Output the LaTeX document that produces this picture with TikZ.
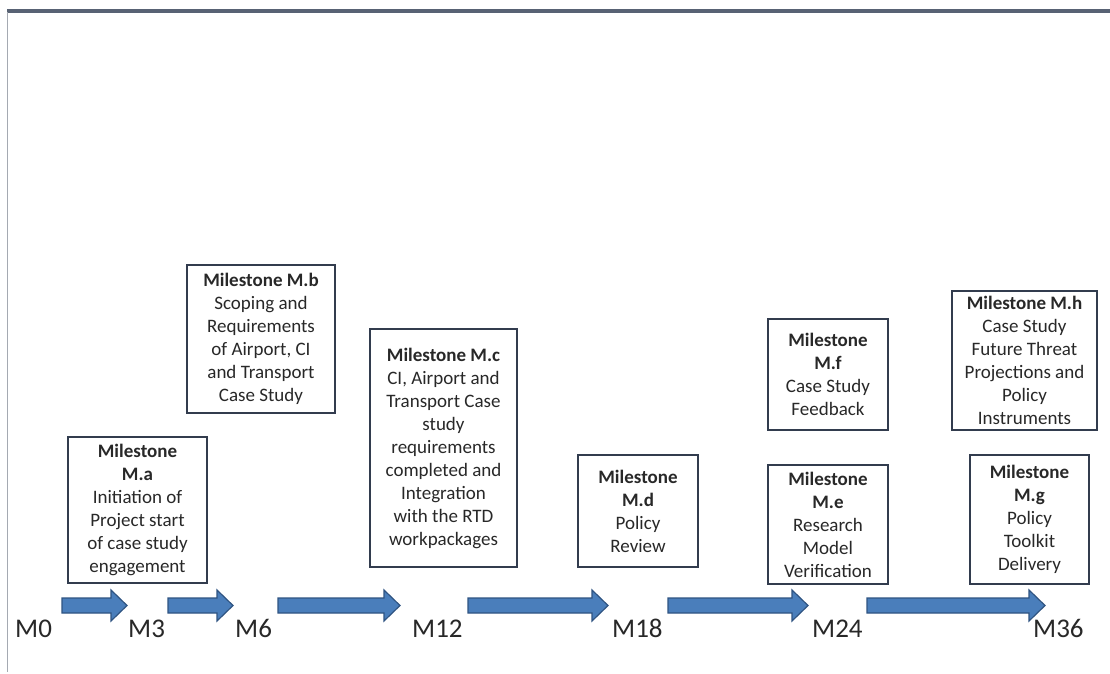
\documentclass[tikz,border=0pt]{standalone}
\usepackage{fontspec}
\setmainfont{Carlito}
\usetikzlibrary{calc}
\definecolor{boxline}{RGB}{50,60,78}
\definecolor{txt}{RGB}{40,40,40}
\definecolor{arrfill}{RGB}{74,126,187}
\definecolor{arrline}{RGB}{47,84,130}
\definecolor{topline}{RGB}{88,98,116}
\definecolor{leftline}{RGB}{165,170,178}
\newcommand\blockarrow[2]{%
  \draw[barrow] ($(#1)+(0,-7.5)$) -- ($(#2)+(-16,-7.5)$) -- ($(#2)+(-16,-15.5)$) -- (#2)
    -- ($(#2)+(-16,15.5)$) -- ($(#2)+(-16,7.5)$) -- ($(#1)+(0,7.5)$) -- cycle;}
\begin{document}
\begin{tikzpicture}[x=1pt,y=-1pt,
  mbox/.style={draw=boxline, line width=2.2pt, fill=white, inner sep=0pt, align=center,
    text=txt, font=\fontsize{19}{23}\selectfont},
  mlabel/.style={anchor=base west, inner sep=0pt, text=txt, font=\fontsize{27}{30}\selectfont},
  barrow/.style={fill=arrfill, draw=arrline, line width=1.2pt, line join=miter}]
\useasboundingbox (0,0) rectangle (1110,674);
\fill[white] (0,0) rectangle (1110,674);
\draw[topline, line width=3.5pt] (7,11) -- (1110,11);
\draw[leftline, line width=1.8pt] (7.5,12) -- (7.5,672);

% milestone boxes
\node[mbox, minimum width=139pt, minimum height=146pt] (ma) at (137.5,510)
  {\textbf{Milestone}\\\textbf{M.a}\\Initiation of\\Project start\\of case study\\engagement};
\node[mbox, minimum width=148pt, minimum height=148pt] (mb) at (261,339)
  {\textbf{Milestone M.b}\\Scoping and\\Requirements\\of Airport, CI\\and Transport\\Case Study};
\node[mbox, minimum width=147pt, minimum height=238pt] (mc) at (443.5,448)
  {\textbf{Milestone M.c}\\CI, Airport and\\Transport Case\\study\\requirements\\completed and\\Integration\\with the RTD\\workpackages};
\node[mbox, minimum width=120pt, minimum height=112pt] (md) at (638,511)
  {\textbf{Milestone}\\\textbf{M.d}\\Policy\\Review};
\node[mbox, minimum width=120pt, minimum height=119pt] (me) at (828,524.5)
  {\textbf{Milestone}\\\textbf{M.e}\\Research\\Model\\Verification};
\node[mbox, minimum width=120pt, minimum height=111pt] (mf) at (828,374.5)
  {\textbf{Milestone}\\\textbf{M.f}\\Case Study\\Feedback};
\node[mbox, minimum width=145pt, minimum height=139pt] (mh) at (1024.5,360.5)
  {\textbf{Milestone M.h}\\Case Study\\Future Threat\\Projections and\\Policy\\Instruments};
\node[mbox, minimum width=119pt, minimum height=129pt] (mg) at (1029.5,519.5)
  {\textbf{Milestone}\\\textbf{M.g}\\Policy\\Toolkit\\Delivery};

% month labels
\node[mlabel] (m0) at (15,637) {M0};
\node[mlabel] (m3) at (128,637) {M3};
\node[mlabel] (m6) at (235,637) {M6};
\node[mlabel] (m12) at (412,637) {M12};
\node[mlabel] (m18) at (612,637) {M18};
\node[mlabel] (m24) at (812,637) {M24};
\node[mlabel] (m36) at (1033,637) {M36};

% arrow end points
\coordinate (a1s) at (62,605.5);  \coordinate (a1e) at (127,605.5);
\coordinate (a2s) at (168,605.5); \coordinate (a2e) at (233,605.5);
\coordinate (a3s) at (278,605.5); \coordinate (a3e) at (400,605.5);
\coordinate (a4s) at (468,605.5); \coordinate (a4e) at (608,605.5);
\coordinate (a5s) at (668,605.5); \coordinate (a5e) at (808,605.5);
\coordinate (a6s) at (867,605.5); \coordinate (a6e) at (1045,605.5);
\blockarrow{a1s}{a1e}
\blockarrow{a2s}{a2e}
\blockarrow{a3s}{a3e}
\blockarrow{a4s}{a4e}
\blockarrow{a5s}{a5e}
\blockarrow{a6s}{a6e}
\end{tikzpicture}
\end{document}
